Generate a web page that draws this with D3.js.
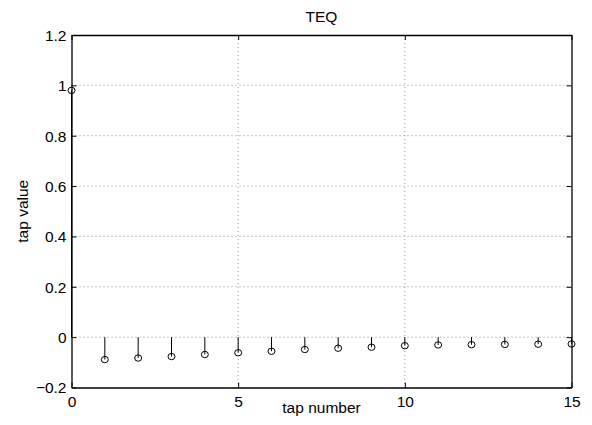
<!DOCTYPE html>
<html><head><meta charset="utf-8">
<script src="https://cdn.jsdelivr.net/npm/d3@7"></script>
<style>body{margin:0;background:#fff}svg{display:block}text{font-family:"Liberation Sans",Arial,sans-serif;fill:#000}</style>
</head><body><svg id="c" width="592" height="425"></svg>
<script>
const taps = [0,1,2,3,4,5,6,7,8,9,10,11,12,13,14,15];
const values = [0.98,-0.089,-0.083,-0.077,-0.069,-0.062,-0.056,-0.049,-0.044,-0.040,-0.034,-0.031,-0.030,-0.029,-0.028,-0.027];
const xTicks = [0,5,10,15];
const yTicks = [-0.2,0,0.2,0.4,0.6,0.8,1,1.2];
const title = "TEQ", xLabel = "tap number", yLabel = "tap value";

const L=71.5, R=571.5, T=35, B=387.5;
const FS = 15.5;
const svg = d3.select("#c");
const x = d3.scaleLinear().domain([0,15]).range([L,R]);
const y = d3.scaleLinear().domain([-0.2,1.2]).range([B,T]);

const g = svg.append("g");
g.selectAll(".gx").data(xTicks.slice(1,-1)).join("line")
  .attr("x1",d=>x(d)).attr("x2",d=>x(d)).attr("y1",T).attr("y2",B)
  .attr("stroke","#999").attr("stroke-dasharray","1,3");
g.selectAll(".gy").data(yTicks.slice(1,-1)).join("line")
  .attr("x1",L).attr("x2",R).attr("y1",d=>y(d)).attr("y2",d=>y(d))
  .attr("stroke","#999").attr("stroke-dasharray","1,3");

const fmt = d=>String(+d.toFixed(1)).replace("-","\u2212");
const ax = svg.append("g").attr("transform",`translate(0,${B})`)
  .call(d3.axisBottom(x).tickValues(xTicks).tickSizeInner(-5).tickSizeOuter(0).tickPadding(8).tickFormat(d3.format("d")));
const axT = svg.append("g").attr("transform",`translate(0,${T})`)
  .call(d3.axisTop(x).tickValues(xTicks).tickSizeInner(-5).tickSizeOuter(0).tickFormat(""));
const ay = svg.append("g").attr("transform",`translate(${L},0)`)
  .call(d3.axisLeft(y).tickValues(yTicks).tickSizeInner(-5).tickSizeOuter(0).tickPadding(5).tickFormat(fmt));
const ayR = svg.append("g").attr("transform",`translate(${R},0)`)
  .call(d3.axisRight(y).tickValues(yTicks).tickSizeInner(-5).tickSizeOuter(0).tickFormat(""));
[ax,axT,ay,ayR].forEach(a=>{
  a.selectAll("path").attr("stroke","#000").attr("stroke-width",1.3);
  a.selectAll("line").attr("stroke","#000");
  a.selectAll("text").attr("font-size",FS).attr("font-family","Liberation Sans, Arial, sans-serif").attr("fill","#000");
});
ay.selectAll("text").attr("dy","0.35em");

svg.selectAll(".stem").data(taps).join("line")
  .attr("x1",d=>x(d)).attr("x2",d=>x(d))
  .attr("y1",y(0)).attr("y2",(d,i)=>y(values[i]))
  .attr("stroke","#000").attr("stroke-width",1);
svg.selectAll(".mk").data(taps).join("ellipse")
  .attr("cx",d=>x(d)).attr("cy",(d,i)=>y(values[i]))
  .attr("rx",3.5).attr("ry",3.2)
  .attr("fill","none").attr("stroke","#000").attr("stroke-width",1);

svg.append("text").attr("x",(L+R)/2).attr("y",22).attr("text-anchor","middle").attr("font-size",FS).text(title);
svg.append("text").attr("x",(L+R)/2).attr("y",413).attr("text-anchor","middle").attr("font-size",FS).text(xLabel);
svg.append("text").attr("transform",`translate(28,${(T+B)/2}) rotate(-90)`).attr("text-anchor","middle").attr("font-size",FS).text(yLabel);
</script></body></html>
